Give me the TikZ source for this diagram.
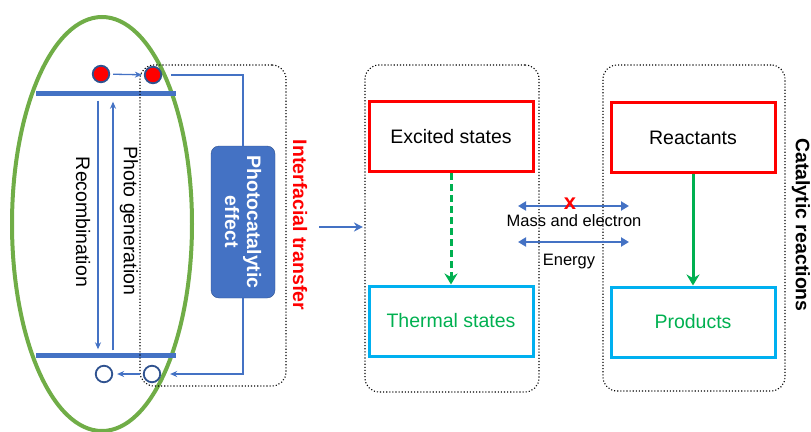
\documentclass[tikz,border=0pt]{standalone}
\usepackage{fontspec}
\setmainfont{Liberation Sans}
\usetikzlibrary{arrows.meta}
\definecolor{bandblue}{HTML}{4472C4}
\definecolor{rimblue}{HTML}{2F528F}
\definecolor{leafgreen}{HTML}{70AD47}
\definecolor{okgreen}{HTML}{00B050}
\definecolor{skyblue}{HTML}{00B0F0}
\begin{document}
\begin{tikzpicture}[x=1pt,y=-1pt,
	every node/.style={font=\fontsize{19.5}{22}\selectfont},
	carrier/.style={circle,draw=rimblue,line width=1.8pt,minimum size=16.5pt,inner sep=0pt},
	band/.style={fill=bandblue,minimum width=140pt,minimum height=5pt,inner sep=0pt},
	flow/.style={draw=bandblue,line width=1.3pt},
	tip/.style={-{Stealth[length=7pt,width=6pt]}},
	frame/.style={draw,dotted,line width=1.1pt,rounded corners=14pt},
	state/.style={draw,line width=3pt,minimum width=164pt,minimum height=70pt},
	vlabel/.style={rotate=-90},
	boldtext/.style={font=\bfseries\fontsize{19.5}{22}\selectfont}]
	\useasboundingbox (0,0) rectangle (811,431);
	% semiconductor
	\draw[leafgreen,line width=4pt] (102,224) ellipse [x radius=90,y radius=207];
	\node[band] (cb) at (106,93) {};
	\node[band] (vb) at (106,355) {};
	\node[frame,minimum width=146pt,minimum height=321pt] (photo) at (213,225.5) {};
	\node[carrier,fill=red] (e1) at (101,74) {};
	\node[carrier,fill=red] (e2) at (153,75) {};
	\node[carrier,fill=white] (h1) at (104,374) {};
	\node[carrier,fill=white] (h2) at (152,374) {};
	\draw[flow,tip,shorten <=3pt,shorten >=2pt] (e1) -- (e2);
	\draw[flow,tip,shorten <=3pt,shorten >=4pt] (h2) -- (h1);
	\draw[flow,tip] ([xshift=-8pt,yshift=-5pt]cb.south) -- ([xshift=-8pt,yshift=3pt]vb.north);
	\draw[flow,tip] ([xshift=7pt,yshift=2pt]vb.north) -- ([xshift=7pt,yshift=-6pt]cb.south);
	\node[vlabel] (rec) at (83,222) {Recombination};
	\node[vlabel] (gen) at (129,221) {Photo generation};
	\node[vlabel,fill=bandblue,draw=rimblue,rounded corners=8pt,minimum width=152pt,minimum height=64pt,
		align=center,text=white,boldtext] (pe) at (243,222) {Photocatalytic\\effect};
	\draw[flow] ([xshift=9pt]e2.east) -| (pe.west);
	\draw[flow,tip] (pe.east) |- ([xshift=9pt]h2.east);
	\node[vlabel,text=red,boldtext] (it) at (300,225) {Interfacial transfer};
	% thermal side
	\node[frame,minimum width=174pt,minimum height=327pt] (mid) at (452,228.5) {};
	\coordinate (itout) at (319,227);
	\draw[flow,line width=2.2pt,-{Stealth[length=9pt,width=9pt]},shorten >=1.5pt] (itout) -- (itout -| mid.west);
	\node[state,draw=red] (ex) at (451,136.5) {Excited states};
	\node[state,draw=skyblue,text=okgreen] (th) at (451,321) {Thermal states};
	\draw[okgreen,line width=3pt,dash pattern=on 7pt off 4pt,-{Stealth[length=11pt,width=13pt]}] (ex) -- (th);
	% catalytic side
	\node[frame,minimum width=182pt,minimum height=326pt] (cat) at (694,228) {};
	\node[state,draw=red] (re) at (693,137.5) {Reactants};
	\node[state,draw=skyblue,text=okgreen] (pr) at (693,322) {Products};
	\draw[okgreen,line width=3pt,-{Stealth[length=11pt,width=13pt]}] (re) -- (pr);
	\node[vlabel,boldtext] (cr) at (801,225) {Catalytic reactions};
	% exchange between the two
	\coordinate (ml) at (518,206);
	\coordinate (mr) at (629,206);
	\coordinate (nl) at (518,242);
	\coordinate (nr) at (629,242);
	\draw[flow,line width=2.2pt,{Triangle[length=8pt,width=9pt]}-{Triangle[length=8pt,width=9pt]}] (ml) -- (mr);
	\draw[flow,line width=2.2pt,{Triangle[length=8pt,width=9pt]}-{Triangle[length=8pt,width=9pt]}] (nl) -- (nr);
	\node[text=red,font=\bfseries\fontsize{22}{22}\selectfont] (cross) at (570,204) {x};
	\node[font=\fontsize{16.5}{18}\selectfont] (mass) at (574,221) {Mass and electron};
	\node[font=\fontsize{16.5}{18}\selectfont] (energy) at (569,262) {Energy};
\end{tikzpicture}
\end{document}
